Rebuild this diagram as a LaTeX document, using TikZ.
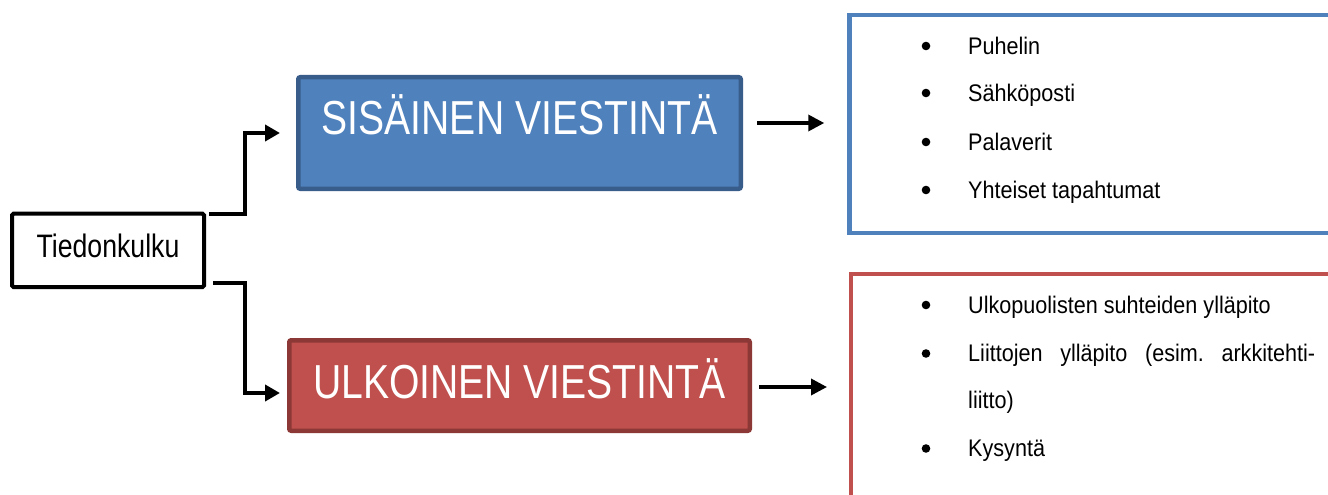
\documentclass[tikz,border=0pt]{standalone}
\usepackage{fontspec}
\setmainfont{Liberation Sans}
\newfontfamily\narrowfont[FakeStretch=0.82]{Liberation Sans}
\newfontfamily\itemfont[FakeStretch=0.9]{Liberation Sans}
\usetikzlibrary{arrows.meta}
\definecolor{sisfill}{HTML}{4F81BD}
\definecolor{sisedge}{HTML}{385D8A}
\definecolor{ulkfill}{HTML}{C0504D}
\definecolor{ulkedge}{HTML}{8C3836}
\frenchspacing
\begin{document}
\begin{tikzpicture}[x=1pt,y=-1pt,
  rootbox/.style={draw=black, line width=4pt, rounded corners=1.5pt,
    minimum width=192pt, minimum height=73.3pt, inner sep=0pt,
    font=\narrowfont\fontsize{32.5}{34}\selectfont, text height=22pt, text depth=8.7pt},
  titlebox/.style={line width=4.5pt, rounded corners=2pt, inner sep=0pt,
    text=white, font=\narrowfont\fontsize{47.7}{50}\selectfont},
  listframe/.style={line width=4.5pt, inner sep=0pt},
  conn/.style={line width=4pt, -{Triangle[length=15pt,width=16pt]}},
  pointer/.style={line width=3.5pt, -{Triangle[length=16pt,width=16pt]}},
  item/.style={anchor=base west, inner sep=0pt, font=\itemfont\fontsize{24}{26}\selectfont},
  dot/.style={fill=black}
]
\useasboundingbox (0,0) rectangle (1328,495);
\fill[white] (0,0) rectangle (1328,495);
\clip (0,0) rectangle (1328,495);

% root node
\node[rootbox] (tk) at (108,250.35) {Tiedonkulku};

% the two channels
\node[titlebox, draw=sisedge, fill=sisfill, minimum width=442.5pt, minimum height=111.5pt,
      text height=36pt, text depth=34pt] (sis) at (519.5,133) {SISÄINEN VIESTINTÄ};
\node[titlebox, draw=ulkedge, fill=ulkfill, minimum width=460.5pt, minimum height=90.5pt,
      text height=36pt, text depth=11pt] (ulk) at (519.5,385.5) {ULKOINEN VIESTINTÄ};

% list frames (running off the page)
\node[listframe, draw=sisfill, minimum width=550.5pt, minimum height=217.5pt] (lb) at (1124.75,124) {};
\node[listframe, draw=ulkfill, minimum width=549.5pt, minimum height=324.75pt] (lr) at (1125.75,436.4) {};

% connectors
\draw[conn] ([xshift=3pt,yshift=-2.3pt]tk.north east) -- ++(36,0) |- ([xshift=-16pt]sis.west);
\draw[conn] ([xshift=7pt,yshift=6pt]tk.south east) -- ++(32,0) |- ([xshift=-7pt,yshift=-7.5pt]ulk.west);
\draw[pointer, shorten >=23pt] ([xshift=14pt,yshift=10pt]sis.east) coordinate (a1) -- (a1 -| lb.west);
\draw[pointer, shorten >=21.75pt] ([xshift=7pt,yshift=-1.5pt]ulk.east) coordinate (a2) -- (a2 -| lr.west);

% internal communication items
\fill[dot] (926,46) circle (4.3pt);
\node[item] (i1) at (968,54.3) {Puhelin};
\fill[dot] (926,93) circle (4.3pt);
\node[item] (i2) at (968,101.3) {Sähköposti};
\fill[dot] (926,142) circle (4.3pt);
\node[item] (i3) at (968,150.3) {Palaverit};
\fill[dot] (926,190) circle (4.3pt);
\node[item] (i4) at (968,198.3) {Yhteiset tapahtumat};

% external communication items
\fill[dot] (926,305) circle (4.3pt);
\node[item] (e1) at (968,313.3) {Ulkopuolisten suhteiden ylläpito};
\fill[dot] (926,353.5) circle (4.3pt);
\node[item] (e2) at (968,361.8) {\makebox[347pt][s]{Liittojen ylläpito (esim. arkkitehti-}};
\node[item] (e3) at (968,408.3) {liitto)};
\fill[dot] (926,448.5) circle (4.3pt);
\node[item] (e4) at (968,456.8) {Kysyntä};
\end{tikzpicture}
\end{document}
